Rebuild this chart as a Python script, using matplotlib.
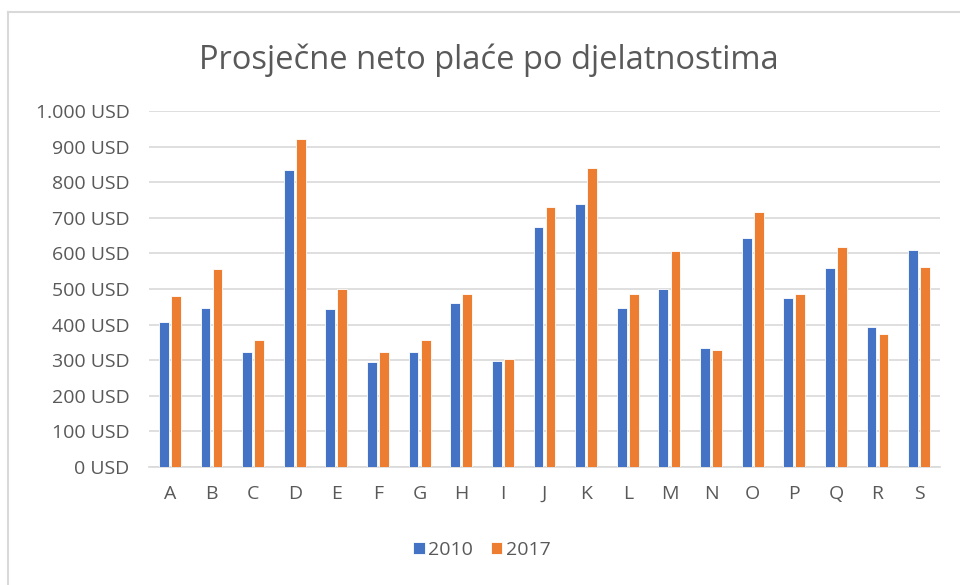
import numpy as np
import matplotlib.pyplot as plt
from matplotlib.lines import Line2D
from matplotlib.ticker import FuncFormatter

plt.rcParams['font.family'] = ['Open Sans', 'DejaVu Sans']

kategorije = ['A', 'B', 'C', 'D', 'E', 'F', 'G', 'H', 'I', 'J',
              'K', 'L', 'M', 'N', 'O', 'P', 'Q', 'R', 'S']
place_2010 = [407, 447, 323, 833, 443, 295, 323, 461, 299, 675,
              740, 447, 500, 334, 642, 476, 559, 392, 609]
place_2017 = [479, 555, 357, 920, 500, 323, 357, 486, 302, 731,
              841, 486, 606, 328, 715, 486, 617, 374, 562]

plava = '#4472c4'
narancasta = '#ed7d31'
siva = '#595959'

fig = plt.figure(figsize=(9.6, 5.85), dpi=100)
ax = fig.add_axes([149/960, 1-467/585, (940-149)/960, (467-111)/585])

x = np.arange(len(kategorije))
w = 0.235
ax.bar(x - 0.145, place_2010, w, color=plava, edgecolor='white', linewidth=0.6, label='2010', zorder=3)
ax.bar(x + 0.145, place_2017, w, color=narancasta, edgecolor='white', linewidth=0.6, label='2017', zorder=3)

ax.set_xlim(-0.5, len(kategorije) - 0.5)
ax.set_ylim(0, 1000)
ax.set_yticks(np.arange(0, 1001, 100))
ax.yaxis.set_major_formatter(FuncFormatter(lambda v, p: '{:,.0f} USD'.format(v).replace(',', '.')))
ax.set_xticks(x)
ax.set_xticklabels(kategorije)
ax.tick_params(axis='both', length=0, labelsize=14, labelcolor=siva)
ax.tick_params(axis='y', pad=14)
ax.tick_params(axis='x', pad=13)
ax.grid(axis='y', color='#d9d9d9', linewidth=1.2, zorder=0)
for s in ['top', 'right', 'left']:
    ax.spines[s].set_visible(False)
ax.spines['bottom'].set_color('#d9d9d9')
ax.spines['bottom'].set_linewidth(1.2)

fig.text(489/960, 1-60/585, 'Prosječne neto plaće po djelatnostima', ha='center', va='center',
         fontsize=23.5, color=siva)

fig.legend(loc='center', bbox_to_anchor=(482/960, 1-550/585), ncol=2, frameon=False,
           fontsize=14, labelcolor=siva, handlelength=0.6, handleheight=0.6,
           handletextpad=0.2, columnspacing=0.9)

# okvir grafikona
fig.add_artist(Line2D([8/960, 1], [1-12/585, 1-12/585], color='#d9d9d9', linewidth=1.5))
fig.add_artist(Line2D([8/960, 8/960], [0, 1-12/585], color='#d9d9d9', linewidth=1.5))

fig.savefig('out.png', dpi=100)
